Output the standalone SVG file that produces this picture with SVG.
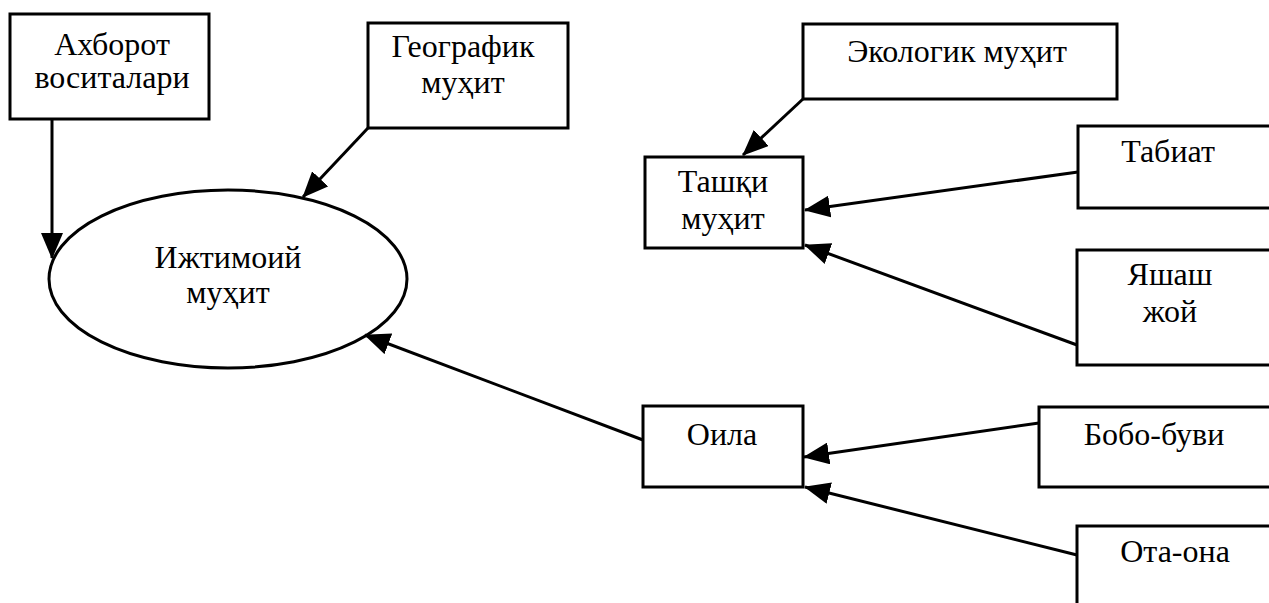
<svg xmlns="http://www.w3.org/2000/svg" width="1269" height="603" viewBox="0 0 1269 603">
  <style>
    .box { fill: #ffffff; stroke: #000000; stroke-width: 3; }
    .ell { fill: #ffffff; stroke: #000000; stroke-width: 3; }
    .lbl { font-family: "Liberation Serif", "DejaVu Serif", serif; font-size: 32px; fill: #000000; text-anchor: middle; }
    .con { fill: none; stroke: #000000; stroke-width: 3; marker-end: url(#arr); }
  </style>
  <defs>
    <marker id="arr" markerUnits="userSpaceOnUse" markerWidth="26" markerHeight="22" refX="25" refY="11" orient="auto">
      <path d="M0,0 L26,11 L0,22 z" fill="#000000"/>
    </marker>
  </defs>
  <rect width="1269" height="603" fill="#ffffff"/>

  <g id="node-axborot">
    <rect class="box" x="10" y="14" width="199" height="105"/>
    <text class="lbl" x="112" y="55">Ахборот</text>
    <text class="lbl" x="112" y="88">воситалари</text>
  </g>

  <g id="node-geografik">
    <rect class="box" x="368" y="23" width="200" height="105"/>
    <text class="lbl" x="463" y="57">Географик</text>
    <text class="lbl" x="463" y="93">муҳит</text>
  </g>

  <g id="node-ijtimoiy">
    <ellipse class="ell" cx="228" cy="279" rx="179" ry="89"/>
    <text class="lbl" x="228" y="268">Ижтимоий</text>
    <text class="lbl" x="228" y="303">муҳит</text>
  </g>

  <g id="node-ekologik">
    <rect class="box" x="803" y="24" width="314" height="75"/>
    <text class="lbl" x="957" y="62">Экологик муҳит</text>
  </g>

  <g id="node-tashqi">
    <rect class="box" x="645" y="157" width="158" height="91"/>
    <text class="lbl" x="723" y="192">Ташқи</text>
    <text class="lbl" x="723" y="229">муҳит</text>
  </g>

  <g id="node-tabiat">
    <rect class="box" x="1078" y="126" width="215" height="82"/>
    <text class="lbl" x="1168" y="162">Табиат</text>
  </g>

  <g id="node-yashash">
    <rect class="box" x="1077" y="250" width="215" height="115"/>
    <text class="lbl" x="1170" y="285">Яшаш</text>
    <text class="lbl" x="1170" y="322">жой</text>
  </g>

  <g id="node-oila">
    <rect class="box" x="643" y="406" width="160" height="81"/>
    <text class="lbl" x="722" y="445">Оила</text>
  </g>

  <g id="node-bobo">
    <rect class="box" x="1039" y="407" width="250" height="80"/>
    <text class="lbl" x="1154" y="445">Бобо-буви</text>
  </g>

  <g id="node-otaona">
    <rect class="box" x="1077" y="526" width="215" height="110"/>
    <text class="lbl" x="1175" y="562">Ота-она</text>
  </g>

  <g id="connectors">
    <line class="con" x1="52" y1="119" x2="52" y2="258"/>
    <line class="con" x1="368" y1="128" x2="303" y2="197"/>
    <line class="con" x1="643" y1="440" x2="365" y2="335"/>
    <line class="con" x1="803" y1="99" x2="743" y2="155"/>
    <line class="con" x1="1078" y1="172" x2="805" y2="210"/>
    <line class="con" x1="1077" y1="345" x2="805" y2="245"/>
    <line class="con" x1="1039" y1="423" x2="804" y2="457"/>
    <line class="con" x1="1077" y1="555" x2="805" y2="487"/>
  </g>
</svg>
